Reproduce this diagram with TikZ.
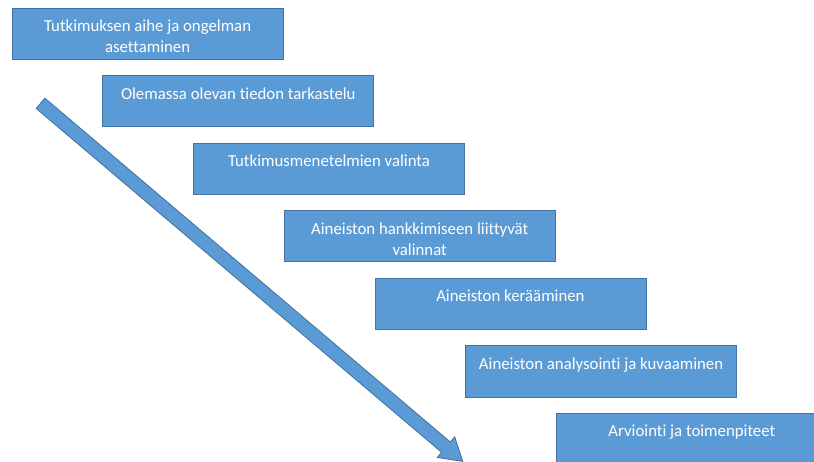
\documentclass[tikz,border=0pt]{standalone}
\usepackage{fontspec}
\setmainfont{Carlito}[RawFeature={-liga;-clig;-dlig;-calt}]
\usetikzlibrary{calc}
\definecolor{stepfill}{HTML}{5B9BD5}
\definecolor{stepline}{HTML}{41719C}
\begin{document}
\begin{tikzpicture}[x=1pt,y=-1pt,
  stepbox/.style={draw=stepline, line width=0.8pt, fill=stepfill, anchor=north west,
    minimum width=271pt, minimum height=51pt, inner sep=0pt},
  steptext/.style={anchor=north, text=white, align=center, inner sep=0pt,
    font=\fontsize{16.8pt}{21pt}\selectfont},
  flowarrow/.style={draw=stepline, line width=0.8pt, fill=stepfill, line join=miter}]
\useasboundingbox (0,0) rectangle (814,462);

% the seven steps, each shifted right and down from the previous one
\foreach \i/\txt in {1/{Tutkimuksen aihe ja ongelman\\asettaminen},
                     2/{Olemassa olevan tiedon tarkastelu},
                     3/{Tutkimusmenetelmien valinta},
                     4/{Aineiston hankkimiseen liittyvät\\valinnat},
                     5/{Aineiston kerääminen},
                     6/{Aineiston analysointi ja kuvaaminen},
                     7/{Arviointi ja toimenpiteet}}{
  \node[stepbox] (s\i) at ({11.7+90.7*(\i-1)}, {8+67.5*(\i-1)}) {};
  \node[steptext] (t\i) at ($(s\i.north)+(0,12)$) {\txt};
}

% long diagonal block arrow
\coordinate (tail) at (40.5,103.3);
\begin{scope}[shift={(tail)}, rotate=-40.3]
  \draw[flowarrow] (0,-6.75) -- (531.7,-6.75) -- (531.7,-13.5) -- (553.7,0)
    -- (531.7,13.5) -- (531.7,6.75) -- (0,6.75) -- cycle;
\end{scope}
\end{tikzpicture}
\end{document}
